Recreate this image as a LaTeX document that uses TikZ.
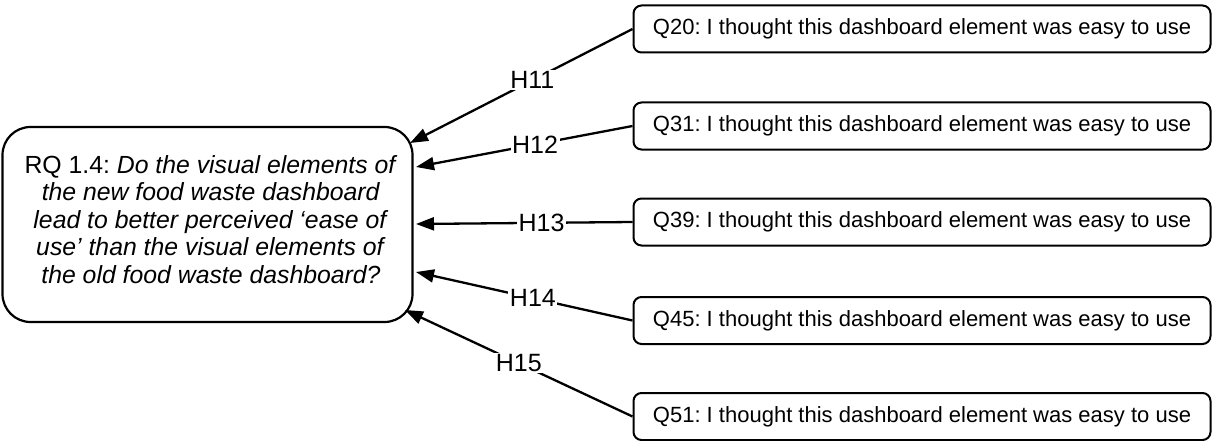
\documentclass[tikz,border=0pt]{standalone}
\usepackage{fontspec}
\setmainfont{Liberation Sans}
\usetikzlibrary{arrows.meta}
\frenchspacing
\begin{document}
\begin{tikzpicture}[x=1pt,y=-1pt,
  rqbox/.style={draw, line width=2.2pt, rounded corners=28pt, minimum width=410pt,
    minimum height=195pt, inner sep=0pt},
  rqtext/.style={align=center, inner sep=0pt, font=\fontsize{24.8}{27.5}\selectfont},
  qbox/.style={draw, line width=2pt, rounded corners=8pt, minimum width=577pt,
    minimum height=47pt, inner sep=0pt, font=\fontsize{22}{26}\selectfont},
  link/.style={line width=2.3pt, -{Triangle[length=18pt,width=13pt]}},
  hlab/.style={fill=white, inner sep=1.5pt, font=\fontsize{25}{27}\selectfont}]
\useasboundingbox (0,0) rectangle (1212,441);

% research question
\node[rqbox] (rq) at (207.5,224.5) {};
\node[rqtext] (rqt) at (211,219.5) {RQ 1.4: \textit{Do the visual elements of}\\
  \textit{the new food waste dashboard}\\
  \textit{lead to better perceived ‘ease of}\\
  \textit{use’ than the visual elements of}\\
  \textit{the old food waste dashboard?}};

% questionnaire items
\node[qbox] (q20) at (922,29)    {Q20: I thought this dashboard element was easy to use};
\node[qbox] (q31) at (922,126)   {Q31: I thought this dashboard element was easy to use};
\node[qbox] (q39) at (922,222)   {Q39: I thought this dashboard element was easy to use};
\node[qbox] (q45) at (922,320.5) {Q45: I thought this dashboard element was easy to use};
\node[qbox] (q51) at (922,416.5) {Q51: I thought this dashboard element was easy to use};

% arrow ends on the research question box
\coordinate (t1) at (410,143);
\coordinate (t2) at (416,167);
\coordinate (t3) at (416,224);
\coordinate (t4) at (416,272);
\coordinate (t5) at (405,310);

% hypotheses
\draw[link] (q20.west) -- node[hlab,pos=0.45] {H11} (t1);
\draw[link] (q31.west) -- node[hlab,pos=0.45] {H12} (t2);
\draw[link] (q39.west) -- node[hlab,pos=0.42] {H13} (t3);
\draw[link] (q45.west) -- node[hlab,pos=0.46] {H14} (t4);
\draw[link] (q51.west) -- node[hlab,pos=0.50] {H15} (t5);
\end{tikzpicture}
\end{document}
